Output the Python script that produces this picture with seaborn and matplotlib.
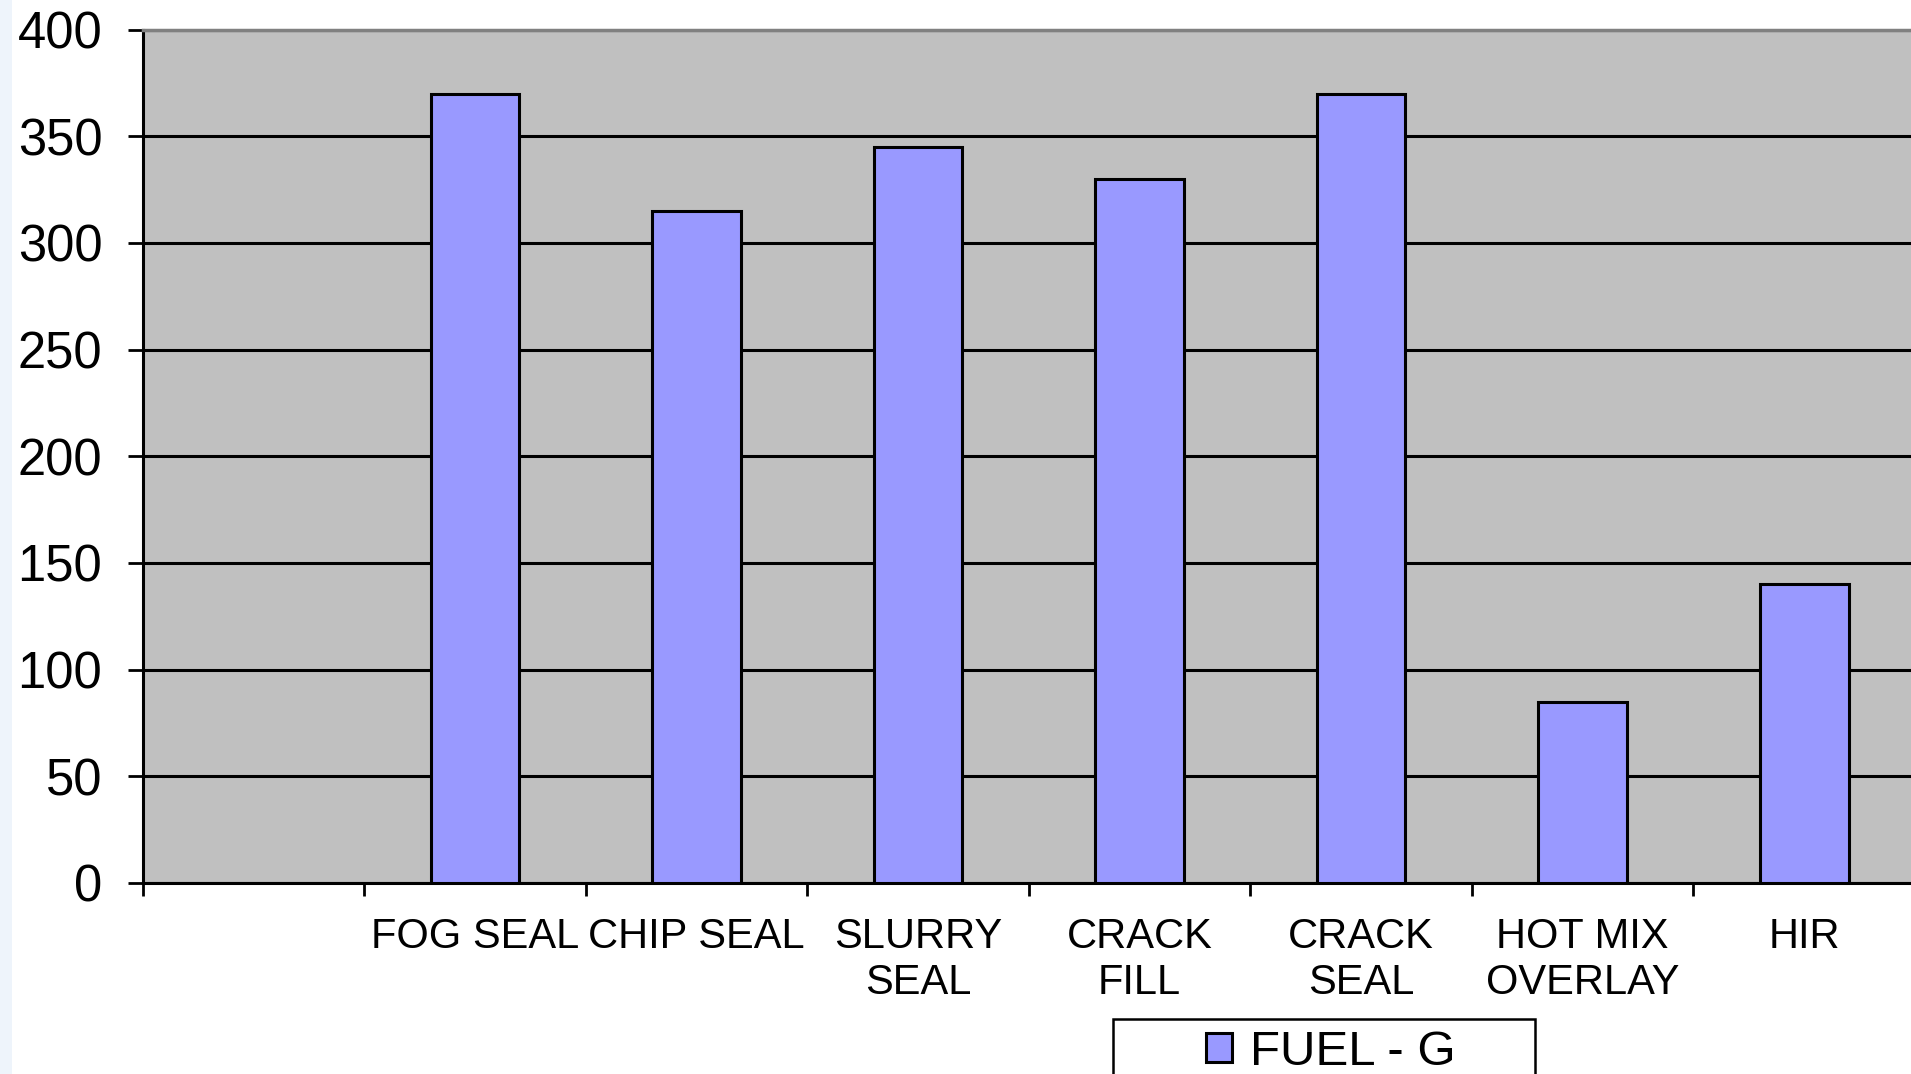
import matplotlib
matplotlib.use("Agg")
import matplotlib.pyplot as plt
from matplotlib.patches import Rectangle
import seaborn as sns
import pandas as pd

# Fuel use per treatment type
categories = ["", "FOG SEAL", "CHIP SEAL", "SLURRY\nSEAL", "CRACK\nFILL",
              "CRACK\nSEAL", "HOT MIX\nOVERLAY", "HIR"]
treatments = ["FOG SEAL", "CHIP SEAL", "SLURRY\nSEAL", "CRACK\nFILL",
              "CRACK\nSEAL", "HOT MIX\nOVERLAY", "HIR"]
fuel_g = [370, 315, 345, 330, 370, 85, 140]
y_ticks = [0, 50, 100, 150, 200, 250, 300, 350, 400]
series_name = "FUEL - G"

sns.set_theme(style="white")
plt.rcParams["font.family"] = ["Liberation Sans", "DejaVu Sans"]
plt.rcParams["text.color"] = "black"
plt.rcParams["xtick.labelcolor"] = "black"
plt.rcParams["ytick.labelcolor"] = "black"

W, H = 1911, 1074
fig = plt.figure(figsize=(W / 100, H / 100), dpi=100)
fig.patch.set_facecolor("white")

# thin slide-background strip on the left edge
fig.patches.append(Rectangle((0, 0), 12 / W, 1, transform=fig.transFigure,
                             facecolor="#EEF4FB", edgecolor="none", zorder=0))

ax = fig.add_axes([142.6 / W, 191 / H, (1915 - 142.6) / W, (883 - 29.5) / H])
ax.set_facecolor("#C0C0C0")

df = pd.DataFrame({"treatment": treatments, "fuel": fuel_g})
sns.barplot(data=df, x="treatment", y="fuel", order=categories, ax=ax,
            color="#9999FF", saturation=1, width=0.4,
            edgecolor="black", linewidth=2.2, label=series_name, zorder=3)
handles, labels = ax.get_legend_handles_labels()
if ax.get_legend() is not None:
    ax.get_legend().remove()

ax.set_ylim(0, 400)
ax.set_xlim(-0.5, len(categories) - 0.5)
ax.set_yticks(y_ticks)
ax.set_yticklabels([str(v) for v in y_ticks], fontsize=36.5, color="black")
ax.yaxis.grid(True, color="black", linewidth=2.2, zorder=1)
ax.set_axisbelow(True)

# category boundaries carry the tick marks, labels sit at the centres
ax.set_xticks([i - 0.5 for i in range(len(categories) + 1)])
ax.set_xticklabels([])
ax.set_xticks(range(len(categories)), minor=True)
ax.set_xticklabels(categories, minor=True, fontsize=30, linespacing=1.2,
                   color="black")
ax.tick_params(axis="x", which="major", direction="out", length=9.5, width=2,
               color="black", bottom=True)
ax.tick_params(axis="x", which="minor", length=0, pad=24.5, bottom=True)
ax.tick_params(axis="y", direction="out", length=11, width=2, color="black",
               pad=18, left=True)
ax.set_xlabel("")
ax.set_ylabel("")

for side in ("left", "bottom"):
    ax.spines[side].set_color("black")
    ax.spines[side].set_linewidth(2.2)
ax.spines["top"].set_color("#808080")
ax.spines["top"].set_linewidth(2.5)
ax.spines["right"].set_visible(False)

# legend box frame, drawn wider than its content
fig.patches.append(Rectangle((1113 / W, -0.05), (1535 - 1113) / W,
                             1 - 1019 / H + 0.05, transform=fig.transFigure,
                             facecolor="white", edgecolor="black",
                             linewidth=1.8, zorder=5))
leg = fig.legend(handles, labels, loc="upper center",
                 bbox_to_anchor=(1331 / W, 1 - 1025 / H),
                 bbox_transform=fig.transFigure, fontsize=35.5, frameon=False,
                 handlelength=0.52, handleheight=0.52, handletextpad=0.36,
                 borderpad=0.1, borderaxespad=0, labelcolor="black")
leg.set_zorder(6)

fig.savefig("out.png", dpi=100)
